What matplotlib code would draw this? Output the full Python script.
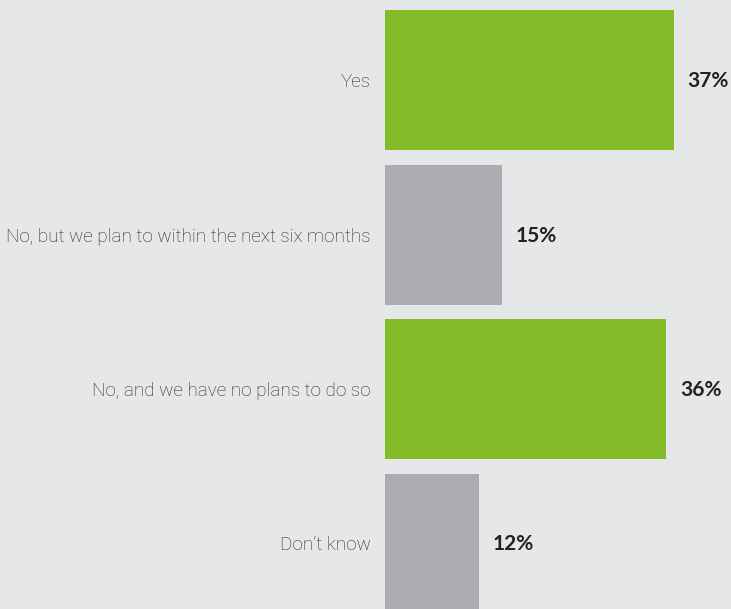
import matplotlib.pyplot as plt

categories = ["Yes", "No, but we plan to within the next six months",
              "No, and we have no plans to do so", "Don\u2019t know"]
values = [37, 15, 36, 12]
labels = ["37%", "15%", "36%", "12%"]
colors = ["#84bb29", "#acadb0", "#84bb29", "#acadb0"]

bg = "#e6e7e8"
W, H = 731, 609
px_per_unit = 7.8
pitch = 154.5

fig = plt.figure(figsize=(W / 100, H / 100), dpi=100, facecolor=bg)
ax = fig.add_axes([385 / W, 0, (W - 385) / W, 1])
ax.set_facecolor(bg)

ypos = list(range(len(categories)))
ax.barh(ypos, values, height=140 / pitch, color=colors, linewidth=0)

for y, cat, v, lab in zip(ypos, categories, values, labels):
    ax.annotate(cat, xy=(0, y), xytext=(-14, -2), textcoords="offset pixels",
                ha="right", va="center", fontsize=13.6, fontweight="light",
                color="#262626", family=["Roboto", "DejaVu Sans"],
                annotation_clip=False)
    ax.annotate(lab, xy=(v, y), xytext=(14, -1), textcoords="offset pixels",
                ha="left", va="center", fontsize=15, fontweight="bold",
                color="#231f20", family=["Lato", "DejaVu Sans"],
                annotation_clip=False)

ax.set_xlim(0, (W - 385) / px_per_unit)
ax.set_ylim((H - 80) / pitch, -80 / pitch)
ax.axis("off")

fig.savefig("out.png", dpi=100, facecolor=bg)
